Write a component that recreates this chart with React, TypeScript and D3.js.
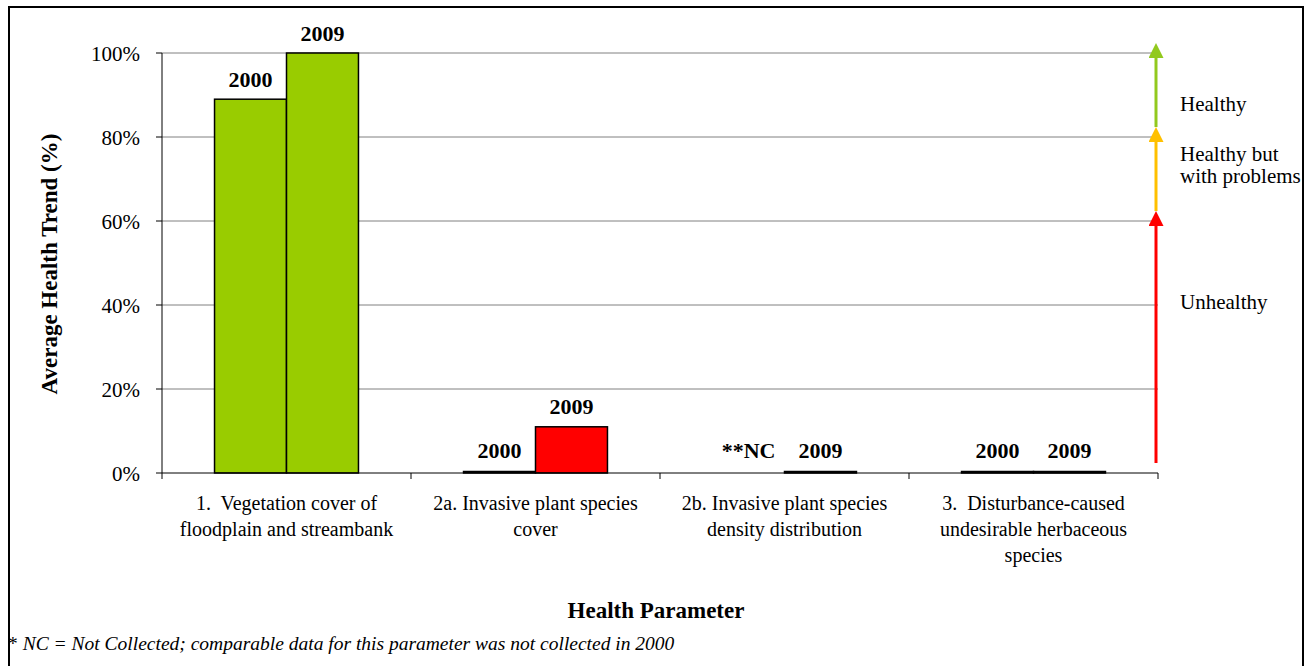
import React from "react";
import * as d3 from "d3";

const categories: string[][] = [
  ["1.  Vegetation cover of", "floodplain and streambank"],
  ["2a. Invasive plant species", "cover"],
  ["2b. Invasive plant species", "density distribution"],
  ["3.  Disturbance-caused", "undesirable herbaceous", "species"],
];
const series = ["2000", "2009"];
const values2000: (number | null)[] = [0.89, 0, null, 0];
const values2009: number[] = [1.0, 0.11, 0, 0];
const colors2000 = ["#99CC00", "#FF0000", "#FF0000", "#FF0000"];
const colors2009 = ["#99CC00", "#FF0000", "#FF0000", "#FF0000"];
const yTicks = [0, 0.2, 0.4, 0.6, 0.8, 1.0];
const zones = [
  { from: 0, to: 0.6, color: "#FF0000", label: ["Unhealthy"], labelAt: 0.407 },
  { from: 0.6, to: 0.8, color: "#FFC000", label: ["Healthy but", "with problems"], labelAt: 0.733 },
  { from: 0.8, to: 1.0, color: "#92C91E", label: ["Healthy"], labelAt: 0.879 },
];

const W = 1311;
const H = 666;
const FONT = "'Times New Roman', 'Liberation Serif', serif";

export default function App() {
  const left = 162;
  const right = 1158;
  const top = 53;
  const bottom = 473;
  const y = d3.scaleLinear().domain([0, 1]).range([bottom, top]);
  const x = d3
    .scaleBand<number>()
    .domain(categories.map((_, i) => i))
    .range([left, right]);
  const inner = d3.scaleBand<string>().domain(series).range([0, x.bandwidth()]).paddingOuter(0.73).paddingInner(0);
  const fmt = d3.format(".0%");

  const bars: { key: string; cat: number; s: string; v: number | null; color: string }[] = [];
  categories.forEach((_, i) => {
    bars.push({ key: `a${i}`, cat: i, s: "2000", v: values2000[i], color: colors2000[i] });
    bars.push({ key: `b${i}`, cat: i, s: "2009", v: values2009[i], color: colors2009[i] });
  });

  const arrowX = right - 2;

  return (
    <svg
      width={W}
      height={H}
      style={{ position: "absolute", left: 0, top: 0, background: "#fff" }}
      fontFamily={FONT}
    >
      <rect x={0} y={0} width={W} height={H} fill="#fff" />
      <rect x={9} y={7} width={1294} height={H + 10} fill="none" stroke="#000" strokeWidth={2} />

      {/* gridlines */}
      {yTicks.filter((t) => t > 0).map((t) => (
        <line key={t} x1={left} x2={right} y1={y(t)} y2={y(t)} stroke="#808080" strokeWidth={1} />
      ))}

      {/* y axis */}
      <line x1={left} x2={left} y1={top} y2={bottom} stroke="#000" strokeWidth={1} />
      {yTicks.map((t) => (
        <g key={t}>
          <line x1={left - 6} x2={left} y1={y(t)} y2={y(t)} stroke="#000" />
          <text x={140} y={y(t) + 7.5} textAnchor="end" fontSize={21} fill="#000">
            {fmt(t)}
          </text>
        </g>
      ))}
      <text
        transform={`translate(57, ${(top + bottom) / 2 + 1}) rotate(-90)`}
        textAnchor="middle"
        fontSize={23}
        fontWeight="bold"
        fill="#000"
      >
        Average Health Trend (%)
      </text>

      {/* bars */}
      {bars.map((b) => {
        if (b.v === null) return null;
        const bx = (x(b.cat) as number) + (inner(b.s) as number);
        const by = y(b.v);
        const h = Math.max(bottom - by, 1.5);
        return (
          <rect
            key={b.key}
            x={bx}
            y={bottom - h}
            width={inner.bandwidth()}
            height={h}
            fill={b.color}
            stroke="#000"
            strokeWidth={1.5}
          />
        );
      })}

      {/* bar labels */}
      {bars.map((b) => {
        const cx = (x(b.cat) as number) + (inner(b.s) as number) + inner.bandwidth() / 2;
        const v = b.v === null ? 0 : b.v;
        const text = b.v === null ? "**NC" : b.s;
        return (
          <text
            key={"l" + b.key}
            x={cx}
            y={y(v) - (v > 0 ? 12.5 : 15.5)}
            textAnchor="middle"
            fontSize={22}
            fontWeight="bold"
            fill="#000"
          >
            {text}
          </text>
        );
      })}

      {/* x axis */}
      <line x1={left} x2={right} y1={bottom} y2={bottom} stroke="#000" strokeWidth={1} />
      {categories.map((_, i) => (
        <line
          key={"t" + i}
          x1={x(i) as number}
          x2={x(i) as number}
          y1={bottom}
          y2={bottom + 6}
          stroke="#000"
        />
      ))}
      <line x1={right} x2={right} y1={bottom} y2={bottom + 6} stroke="#000" />
      {categories.map((lines, i) => (
        <text
          key={"c" + i}
          x={(x(i) as number) + x.bandwidth() / 2}
          textAnchor="middle"
          fontSize={20}
          fill="#000"
          xmlSpace="preserve"
        >
          {lines.map((ln, j) => (
            <tspan key={j} x={(x(i) as number) + x.bandwidth() / 2} y={510 + j * 26}>
              {ln}
            </tspan>
          ))}
        </text>
      ))}

      <text x={656} y={618} textAnchor="middle" fontSize={23} fontWeight="bold" fill="#000">
        Health Parameter
      </text>

      {/* zone arrows */}
      <defs>
        {zones.map((z, i) => (
          <marker
            key={i}
            id={"ah" + i}
            viewBox="0 0 10 10"
            refX={0}
            refY={5}
            markerWidth={15}
            markerHeight={15}
            markerUnits="userSpaceOnUse"
            orient="auto"
          >
            <path d="M0,0 L10,5 L0,10 z" fill={z.color} />
          </marker>
        ))}
      </defs>
      {zones.map((z, i) => (
        <g key={"z" + i}>
          <line
            x1={arrowX}
            x2={arrowX}
            y1={y(z.from) - 10}
            y2={y(z.to) + 5}
            stroke={z.color}
            strokeWidth={3}
            markerEnd={`url(#ah${i})`}
          />
          <text x={1180} fontSize={21} fill="#000">
            {z.label.map((ln, j) => (
              <tspan key={j} x={1180} y={y(z.labelAt) + 7 + (j - (z.label.length - 1) / 2) * 22}>
                {ln}
              </tspan>
            ))}
          </text>
        </g>
      ))}

      <text x={8} y={650} fontSize={19.5} fill="#000">
        <tspan>* </tspan>
        <tspan fontStyle="italic">NC = Not Collected; comparable data for this parameter was not collected in 2000</tspan>
      </text>
    </svg>
  );
}
